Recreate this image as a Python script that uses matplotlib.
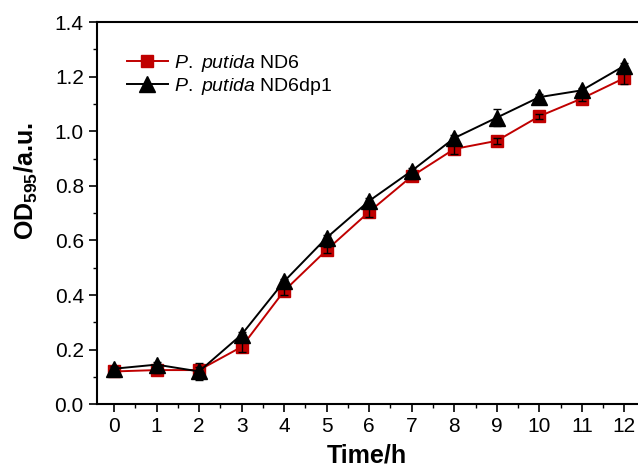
import numpy as np
import matplotlib
matplotlib.use("Agg")
import matplotlib.pyplot as plt
from matplotlib.ticker import MultipleLocator, FormatStrFormatter

plt.rcParams['font.family'] = ['Liberation Sans', 'DejaVu Sans']
plt.rcParams['mathtext.fontset'] = 'custom'
plt.rcParams['mathtext.rm'] = 'Liberation Sans'
plt.rcParams['mathtext.it'] = 'Liberation Sans:italic'
plt.rcParams['mathtext.bf'] = 'Liberation Sans:bold'

time_h = [0, 1, 2, 3, 4, 5, 6, 7, 8, 9, 10, 11, 12]
nd6 = [0.12, 0.125, 0.125, 0.21, 0.415, 0.565, 0.705, 0.835, 0.935, 0.965, 1.055, 1.12, 1.195]
nd6_err = [0.015, 0.01, 0.01, 0.02, 0.015, 0.01, 0.02, 0.01, 0.02, 0.01, 0.01, 0.01, 0.02]
nd6dp1 = [0.13, 0.145, 0.12, 0.255, 0.45, 0.61, 0.745, 0.855, 0.975, 1.05, 1.125, 1.15, 1.24]
nd6dp1_err = [0.01, 0.01, 0.03, 0.01, 0.01, 0.01, 0.01, 0.01, 0.01, 0.03, 0.01, 0.01, 0.01]

fig = plt.figure(figsize=(6.38, 4.70), dpi=100)
ax = fig.add_axes([0.152, 0.140, 0.86, 0.813])

ax.plot(time_h, nd6, color='#C00000', marker='s', markersize=9, linewidth=1.4,
        label=r'$\mathit{P.\ putida}$ ND6')
ax.plot(time_h, nd6dp1, color='black', marker='^', markersize=11, linewidth=1.4,
        label=r'$\mathit{P.\ putida}$ ND6dp1')
ax.errorbar(time_h, nd6, yerr=nd6_err, fmt='none', ecolor='black', elinewidth=1.0, capsize=3, zorder=4)
ax.errorbar(time_h, nd6dp1, yerr=nd6dp1_err, fmt='none', ecolor='black', elinewidth=1.0, capsize=3, zorder=4)

ax.set_xlim(-0.4, 12.5)
ax.set_ylim(0, 1.4)
ax.xaxis.set_major_locator(MultipleLocator(1))
ax.xaxis.set_minor_locator(MultipleLocator(0.5))
ax.yaxis.set_major_locator(MultipleLocator(0.2))
ax.yaxis.set_minor_locator(MultipleLocator(0.1))
ax.yaxis.set_major_formatter(FormatStrFormatter('%.1f'))
ax.tick_params(which='major', direction='out', length=6, width=1.2, labelsize=15)
ax.tick_params(which='minor', direction='out', length=3, width=1.0)
for s in ax.spines.values():
    s.set_linewidth(1.5)

ax.set_xlabel('Time/h', fontsize=18, fontweight='bold')
ax.set_ylabel(r'OD$_\mathbf{595}$/a.u.', fontsize=18, fontweight='bold')
ax.xaxis.set_label_coords(0.492, -0.102)
ax.yaxis.set_label_coords(-0.103, 0.584)

ax.legend(loc='upper left', bbox_to_anchor=(0.03, 0.955), frameon=False, fontsize=14,
          handlelength=2.1, handletextpad=0.3, labelspacing=0.1, borderpad=0.2)

plt.savefig('out.png', dpi=100)
